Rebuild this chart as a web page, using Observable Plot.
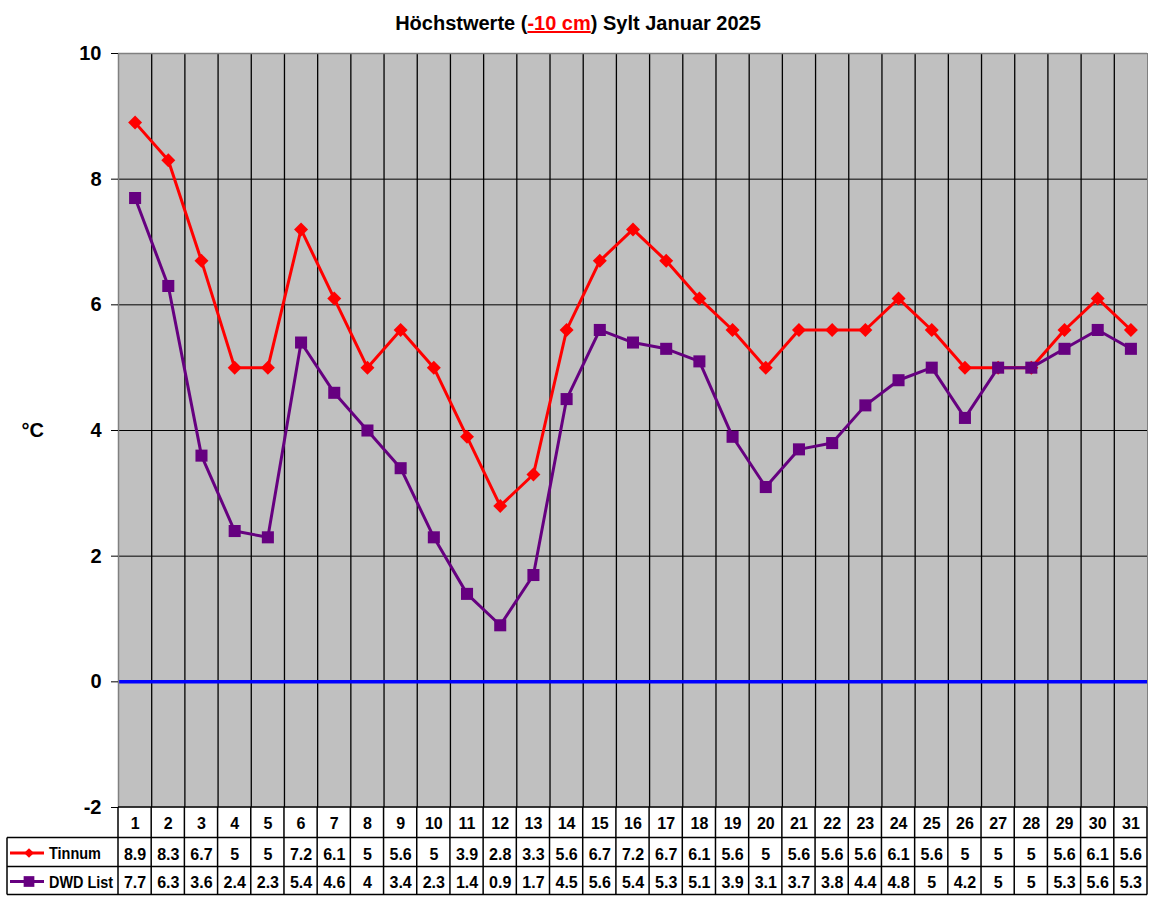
<!DOCTYPE html>
<html><head><meta charset="utf-8">
<script src="https://cdn.jsdelivr.net/npm/d3@7"></script>
<script src="https://cdn.jsdelivr.net/npm/@observablehq/plot@0.6"></script>
<style>html,body{margin:0;padding:0;background:#fff} svg{display:block}</style>
</head><body><div id="chart"></div>
<script>
// ---- data ----
const days = [1,2,3,4,5,6,7,8,9,10,11,12,13,14,15,16,17,18,19,20,21,22,23,24,25,26,27,28,29,30,31];
const tinnum = [8.9,8.3,6.7,5,5,7.2,6.1,5,5.6,5,3.9,2.8,3.3,5.6,6.7,7.2,6.7,6.1,5.6,5,5.6,5.6,5.6,6.1,5.6,5,5,5,5.6,6.1,5.6];
const dwd = [7.7,6.3,3.6,2.4,2.3,5.4,4.6,4,3.4,2.3,1.4,0.9,1.7,4.5,5.6,5.4,5.3,5.1,3.9,3.1,3.7,3.8,4.4,4.8,5,4.2,5,5,5.3,5.6,5.3];
const yTicks = [-2,0,2,4,6,8,10];
const seriesNames = ["Tinnum","DWD List"];
const titleParts = ["Höchstwerte (", "-10 cm", ") Sylt Januar 2025"];
const unitLabel = "°C";

// ---- chart ----
const W = 1152, H = 900;
const font = "'Liberation Sans', Arial, Helvetica, sans-serif";
const RED = "#FF0000", PURPLE = "#660080", BLUE = "#0000FF";
const tData = days.map((d,i)=>({day:d, v:tinnum[i]}));
const dData = days.map((d,i)=>({day:d, v:dwd[i]}));
const innerBounds = days.slice(1).map(d => d - 0.5);
const allBounds = [days[0]-0.5, ...days.map(d => d + 0.5)];

const plot = Plot.plot({
  width: W, height: H,
  marginLeft: 118, marginRight: 5, marginTop: 53, marginBottom: 93,
  style: {fontFamily: font, background: "white", overflow: "visible"},
  x: {domain: [0.5, 31.5], axis: null},
  y: {domain: [-2, 10], axis: null},
  marks: [
    Plot.frame({fill: "#C0C0C0", stroke: null}),
    Plot.ruleY([2,4,6,8], {stroke: "black", strokeWidth: 1}),
    Plot.ruleX(innerBounds, {y1: -2, y2: 10, stroke: "black", strokeWidth: 1.3}),
    Plot.ruleY([0], {stroke: BLUE, strokeWidth: 3.5}),
    Plot.ruleY([10], {stroke: "#808080", strokeWidth: 1.5}),
    Plot.ruleX([0.5], {y1: -2, y2: 10, stroke: "#808080", strokeWidth: 1.5}),
    Plot.ruleX([31.5], {y1: -2, y2: 10, stroke: "#808080", strokeWidth: 1}),
    Plot.axisY({ticks: yTicks, tickSize: 7, tickPadding: 10, tickFormat: d => String(d),
      fontSize: 20, fontWeight: "bold", label: null, stroke: "black"}),
    Plot.line(tData, {x: "day", y: "v", stroke: RED, strokeWidth: 3}),
    Plot.dot(tData, {x: "day", y: "v", symbol: "diamond2", r: 6.3, fill: RED, stroke: null}),
    Plot.line(dData, {x: "day", y: "v", stroke: PURPLE, strokeWidth: 3}),
    Plot.dot(dData, {x: "day", y: "v", symbol: "square", r: 6.8, fill: PURPLE, stroke: null}),
    // table texts
    Plot.text(days, {x: d => d, y: -2, text: d => String(d), dy: 16.5, fontSize: 16, fontWeight: "bold", fill: "black"}),
    Plot.text(tData, {x: "day", y: -2, text: d => String(d.v), dy: 47, fontSize: 16, fontWeight: "bold", fill: "black"}),
    Plot.text(dData, {x: "day", y: -2, text: d => String(d.v), dy: 75.5, fontSize: 16, fontWeight: "bold", fill: "black"}),
    Plot.text([unitLabel], {frameAnchor: "left", dx: -97, fontSize: 20, fontWeight: "bold", fill: "black"})
  ]
});
document.getElementById("chart").appendChild(plot);

// ---- table grid, legend keys and title, placed with Plot's scales ----
const sx = plot.scale("x"), sy = plot.scale("y");
const X = v => sx.apply(v), Y = v => sy.apply(v);
const svg = d3.select(plot);
const yb = Y(-2);
const rowY = [yb, yb + 30.5, yb + 59.5, yb + 87.5];
const xL = 7, xR = X(31.5);
const g = svg.append("g").attr("stroke", "black").attr("stroke-width", 1.5);
g.append("line").attr("x1", X(0.5)).attr("x2", xR).attr("y1", rowY[0]).attr("y2", rowY[0]);
for (let k = 1; k < 4; k++) g.append("line").attr("x1", xL).attr("x2", xR).attr("y1", rowY[k]).attr("y2", rowY[k]);
allBounds.forEach(b => g.append("line").attr("x1", X(b)).attr("x2", X(b)).attr("y1", rowY[0]).attr("y2", rowY[3]));
g.append("line").attr("x1", xL).attr("x2", xL).attr("y1", rowY[1]).attr("y2", rowY[3]);

const keys = [{name: seriesNames[0], color: RED, sym: d3.symbolDiamond2, size: 60, cy: (rowY[1]+rowY[2])/2 + 1, len: 52},
              {name: seriesNames[1], color: PURPLE, sym: d3.symbolSquare, size: 115, cy: (rowY[2]+rowY[3])/2 + 1, len: 64}];
keys.forEach(k => {
  svg.append("line").attr("x1", 10).attr("x2", 44).attr("y1", k.cy).attr("y2", k.cy)
     .attr("stroke", k.color).attr("stroke-width", 3);
  svg.append("path").attr("d", d3.symbol(k.sym, k.size)()).attr("transform", `translate(29,${k.cy})`)
     .attr("fill", k.color).attr("stroke", "none");
  svg.append("text").attr("x", 49).attr("y", k.cy + 6).attr("text-anchor", "start")
     .style("text-anchor", "start").attr("font-size", 16).attr("font-weight", "bold")
     .attr("textLength", k.len).attr("lengthAdjust", "spacingAndGlyphs")
     .attr("font-family", font).attr("fill", "black").text(k.name);
});

const t = svg.append("text").attr("x", 578).attr("y", 30).attr("text-anchor", "middle")
  .attr("font-size", 20).attr("font-weight", "bold").attr("font-family", font).attr("fill", "black");
t.append("tspan").text(titleParts[0]);
t.append("tspan").attr("fill", RED).attr("text-decoration", "underline").style("text-decoration", "underline").text(titleParts[1]);
t.append("tspan").text(titleParts[2]);
</script>
</body></html>
